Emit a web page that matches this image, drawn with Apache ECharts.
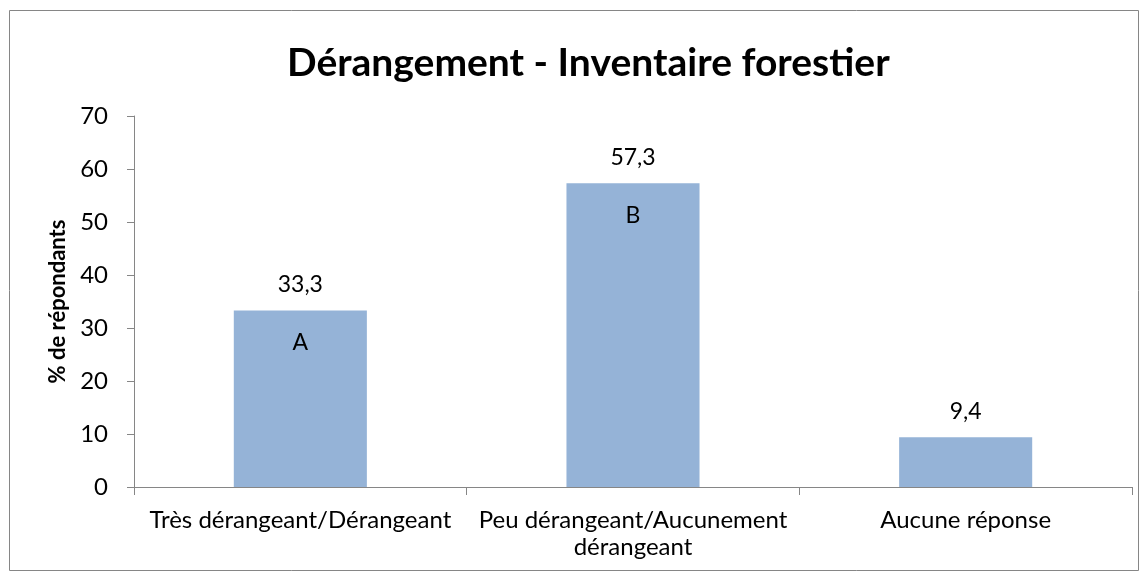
<!DOCTYPE html>
<html>
<head>
<meta charset="utf-8">
<script src="https://cdn.jsdelivr.net/npm/echarts@6/dist/echarts.min.js"></script>
<style>
  html, body { margin: 0; padding: 0; background: #fff; }
  #chart { width: 1148px; height: 580px; }
</style>
</head>
<body>
<div id="chart"></div>
<script>
// données
var categories = ['Très dérangeant/Dérangeant', 'Peu dérangeant/Aucunement\ndérangeant', 'Aucune réponse'];
var valeurs = [33.3, 57.3, 9.4];
var lettres = ['A', 'B', ''];
var yTicks = [0, 10, 20, 30, 40, 50, 60, 70];

var police = 'Lato, "Open Sans", sans-serif';
var chart = echarts.init(document.getElementById('chart'));

var option = {
    backgroundColor: '#fff',
    textStyle: { fontFamily: police },
    graphic: [{
        type: 'rect',
        shape: { x: 9.5, y: 10.5, width: 1129, height: 560 },
        style: { fill: 'none', stroke: '#868686', lineWidth: 1 },
        silent: true
    }],
    title: {
        text: 'Dérangement - Inventaire forestier',
        left: 282,
        top: 39,
        textStyle: { fontFamily: police, fontSize: 39, fontWeight: 'bold', color: '#000' }
    },
    grid: { left: 134, right: 16, top: 116, bottom: 93 },
    xAxis: {
        type: 'category',
        data: categories,
        axisLine: { lineStyle: { color: '#868686' } },
        axisTick: { show: true, length: 8, lineStyle: { color: '#868686' } },
        axisLabel: { color: '#000', fontSize: 24, margin: 20, lineHeight: 27, interval: 0, fontFamily: police }
    },
    yAxis: {
        type: 'value',
        min: yTicks[0],
        max: yTicks[yTicks.length - 1],
        interval: 10,
        name: '% de répondants',
        nameLocation: 'middle',
        nameRotate: 90,
        nameGap: 61,
        nameTextStyle: { fontSize: 22, fontWeight: 'bold', color: '#000', fontFamily: police },
        axisLine: { show: true, lineStyle: { color: '#868686' } },
        axisTick: { show: true, length: 7, lineStyle: { color: '#868686' } },
        splitLine: { show: false },
        axisLabel: { color: '#000', fontSize: 24, margin: 26, fontFamily: police }
    },
    series: [{
        type: 'bar',
        data: valeurs,
        barWidth: '40%',
        itemStyle: { color: '#95B3D7' },
        label: {
            show: true,
            position: 'top',
            distance: 14,
            color: '#000',
            fontSize: 23,
            fontFamily: police,
            formatter: function (p) { return String(p.value).replace('.', ','); }
        },
        silent: true
    }, {
        type: 'bar',
        data: valeurs,
        barWidth: '40%',
        barGap: '-100%',
        itemStyle: { color: 'transparent' },
        label: {
            show: true,
            position: 'insideTop',
            distance: 21,
            color: '#000',
            fontSize: 23,
            fontFamily: police,
            formatter: function (p) { return lettres[p.dataIndex]; }
        },
        silent: true
    }]
};

chart.setOption(option);
</script>
</body>
</html>
